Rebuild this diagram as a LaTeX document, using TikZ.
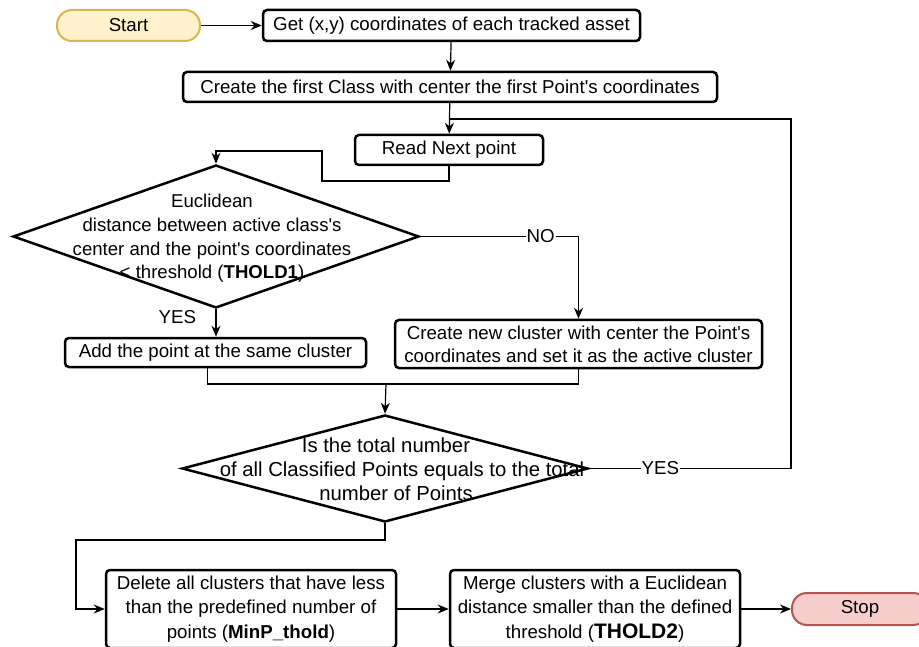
\documentclass[tikz,border=0pt]{standalone}
\usepackage{fontspec}
\setmainfont{Liberation Sans}
\usetikzlibrary{arrows.meta,shapes.geometric}
\definecolor{startfill}{HTML}{FFF2CC}
\definecolor{startdraw}{HTML}{D6B656}
\definecolor{stopfill}{HTML}{F8CECC}
\definecolor{stopdraw}{HTML}{B85450}
\newcommand\sq{\textquotesingle}
\begin{document}
\begin{tikzpicture}[x=1pt,y=-1pt,
  font=\fontsize{18.7}{22}\selectfont,
  box/.style={draw, line width=2.5pt, rounded corners=4pt, fill=white, inner sep=0pt, align=center},
  pill/.style={draw, line width=2pt, rounded corners=15pt, inner sep=0pt},
  dia/.style={diamond, draw, line width=2.5pt, inner sep=0pt, fill=white},
  diatext/.style={align=center, font=\fontsize{18.6}{23.7}\selectfont},
  conn/.style={line width=1.2pt, -{Stealth[length=11pt,width=9pt]}},
  plain/.style={line width=1.2pt},
  lab/.style={fill=white, inner sep=1pt}]
\useasboundingbox (0,0) rectangle (919,647);
\fill[white] (0,0) rectangle (919,647);

\node[pill, fill=startfill, draw=startdraw, minimum width=143pt, minimum height=31pt] (start) at (128.5,25.5) {Start};
\node[box, minimum width=377pt, minimum height=31pt] (get) at (451.5,25.5) {Get (x,y) coordinates of each tracked asset};
\node[box, minimum width=534pt, minimum height=30pt] (create) at (450,87) {Create the first Class with center the first Point\sq s coordinates};
\node[box, minimum width=188pt, minimum height=30pt] (read) at (449,150) {Read Next point};

\node[dia, minimum width=406pt, minimum height=143pt] (d1) at (216,236.5) {};
\node[diatext] (d1t) at (212,238.5) {Euclidean\\distance between active class\sq s\\center and the point\sq s coordinates\\< threshold (\textbf{THOLD1})};

\node[box, minimum width=301pt, minimum height=29pt] (add) at (215.5,352.5) {Add the point at the same cluster};
\node[box, minimum width=367pt, minimum height=48pt, font=\fontsize{18.7}{23}\selectfont] (new) at (578.5,344) {Create new cluster with center the Point\sq s\\coordinates and set it as the active cluster};

\node[dia, minimum width=406pt, minimum height=107pt] (d2) at (385,468.5) {};
\node[diatext, font=\fontsize{20.3}{24}\selectfont] (d2t) at (386,469) {Is the total number\\\hspace*{32pt}of all Classified Points equals to the total\\\hspace*{20pt}number of Points};

\node[box, minimum width=290pt, minimum height=78pt, font=\fontsize{18.7}{24.5}\selectfont] (delete) at (251,609) {Delete all clusters that have less\\than the predefined number of\\points (\textbf{MinP\_thold})};
\node[box, minimum width=290pt, minimum height=78pt, font=\fontsize{18.7}{24.5}\selectfont] (merge) at (595,609) {Merge clusters with a Euclidean\\distance smaller than the defined\\threshold (\textbf{\fontsize{21}{24.5}\selectfont THOLD2})};
\node[pill, fill=stopfill, draw=stopdraw, minimum width=136pt, minimum height=32pt] (stop) at (860,609) {Stop};

\coordinate (r1) at (322,181);
\coordinate (r2) at (216,151);
\coordinate (j) at (386,384);
\coordinate (lp) at (791,119);
\coordinate (b1) at (76,540);

\draw[conn] (start) -- (get);
\draw[conn] (get) -- (create);
\draw[conn] (create) -- (read);
\draw[conn] (read.south) |- (r1) |- (r2) -- (d1.north);
\draw[conn] (d1.east) -| node[lab, pos=0.38] {NO} (new.north);
\draw[conn] (d1.south) -- node[left=16pt, pos=0.3] {YES} (d1.south |- add.north);
\draw[plain] ([xshift=-8pt]add.south) |- (j) -| (new.south);
\draw[conn] (j) -- (d2.north);
\draw[plain] (d2.east) -| node[lab, pos=0.176] {YES} (lp) -- (lp -| read.north);
\draw[conn] (d2.south) |- (b1) |- (delete.west);
\draw[conn] (delete) -- (merge);
\draw[conn] (merge) -- (stop);
\end{tikzpicture}
\end{document}
